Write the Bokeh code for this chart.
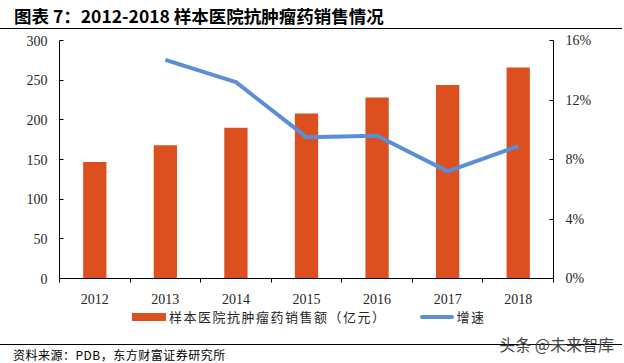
from bokeh.plotting import figure
from bokeh.models import Range1d, LinearAxis, FixedTicker, PrintfTickFormatter, Div
from bokeh.layouts import column
from bokeh.embed import file_html
from bokeh.resources import INLINE

years = ["2012", "2013", "2014", "2015", "2016", "2017", "2018"]
sales = [147, 168, 190, 208, 228, 244, 266]
growth_years = ["2013", "2014", "2015", "2016", "2017", "2018"]
growth = [14.7, 13.2, 9.5, 9.6, 7.2, 8.9]
left_ticks = [0, 50, 100, 150, 200, 250, 300]
right_ticks = [0, 4, 8, 12, 16]

title_text = "图表 7：2012-2018 样本医院抗肿瘤药销售情况"
bar_label = "样本医院抗肿瘤药销售额（亿元）"
line_label = "增速"
source_text = "资料来源：PDB，东方财富证券研究所"
mark_text = "头条 @未来智库"

BAR = "#DC4F1F"
LINE = "#5A8FD8"
SERIF = "Liberation Serif"
CJK = "Noto Sans CJK SC"
TXT = "#262626"
W = 622

xs = list(range(len(years)))
bounds = [i - 0.5 for i in range(len(years) + 1)]
gx = [years.index(y) for y in growth_years]

p = figure(width=W, height=275, x_range=Range1d(-0.5, len(years) - 0.5),
           y_range=Range1d(0, 300),
           output_backend="svg", toolbar_location=None,
           x_axis_location=None, y_axis_location=None,
           min_border_left=59, min_border_right=W - 553, min_border_top=9,
           min_border_bottom=25, outline_line_color=None)
p.grid.visible = False
p.extra_y_ranges = {"pct": Range1d(0, 16)}


def style_axis(ax):
    ax.axis_line_color = "black"
    ax.axis_line_width = 1
    ax.major_tick_line_color = "black"
    ax.minor_tick_line_color = None
    ax.major_label_text_font = SERIF
    ax.major_label_text_font_size = "14px"
    ax.major_label_text_color = TXT


ya = LinearAxis(ticker=FixedTicker(ticks=left_ticks))
style_axis(ya)
ya.major_tick_in = 4
ya.major_tick_out = 0
ya.major_label_standoff = 12
p.add_layout(ya, "left")

yr = LinearAxis(y_range_name="pct", ticker=FixedTicker(ticks=right_ticks),
                formatter=PrintfTickFormatter(format="%d%%"))
style_axis(yr)
yr.major_tick_in = 4
yr.major_tick_out = 0
yr.major_label_standoff = 12
p.add_layout(yr, "right")

xc = LinearAxis(ticker=FixedTicker(ticks=xs, minor_ticks=bounds),
                major_label_overrides={i: y for i, y in zip(xs, years)})
style_axis(xc)
xc.major_tick_line_color = None
xc.minor_tick_line_color = "black"
xc.minor_tick_in = 0
xc.minor_tick_out = 4
xc.major_label_standoff = 9
p.add_layout(xc, "below")

bars = p.vbar(x=xs, top=sales, width=0.33, fill_color=BAR, line_color=None)
ln = p.line(x=gx, y=growth, y_range_name="pct", line_width=4, line_color=LINE)

title_html = (
    f'<div style="position:relative;width:{W}px;height:31px;">'
    f'<span style="position:absolute;left:14px;top:4px;font-family:\'{CJK}\';font-size:17.5px;'
    f'font-weight:bold;color:black;line-height:24px;white-space:nowrap;">{title_text}</span>'
    f'<div style="position:absolute;left:0;top:28px;width:{W}px;height:1px;background:black;"></div>'
    '</div>')
title_div = Div(text=title_html, width=W, height=31, margin=0)

bottom_html = (
    f'<div style="position:relative;width:{W}px;height:55px;font-family:\'{CJK}\';">'
    '<div style="position:absolute;left:132px;top:0;height:20px;line-height:20px;'
    f'white-space:nowrap;font-size:13px;color:{TXT};letter-spacing:1.5px;">'
    f'<span style="display:inline-block;width:34px;height:8px;background:{BAR};'
    'vertical-align:middle;"></span>'
    f'<span style="margin-left:3px;vertical-align:middle;">{bar_label}</span>'
    f'<span style="display:inline-block;width:34px;height:4px;background:{LINE};'
    'vertical-align:middle;margin-left:33px;border-radius:2px;"></span>'
    f'<span style="margin-left:3px;vertical-align:middle;">{line_label}</span>'
    '</div>'
    f'<div style="position:absolute;left:0;top:38px;width:{W}px;height:1px;background:black;"></div>'
    '<span style="position:absolute;left:13px;top:41px;font-size:12px;line-height:15px;'
    f'color:black;white-space:nowrap;letter-spacing:0.5px;">{source_text}</span>'
    '<span style="position:absolute;right:8px;top:28px;font-size:16px;line-height:20px;'
    f'color:#444444;white-space:nowrap;">{mark_text}</span>'
    '</div>')
bottom_div = Div(text=bottom_html, width=W, height=55, margin=0)

layout = column(title_div, p, bottom_div, spacing=0)

open("out.html", "w").write(file_html(layout, INLINE))
